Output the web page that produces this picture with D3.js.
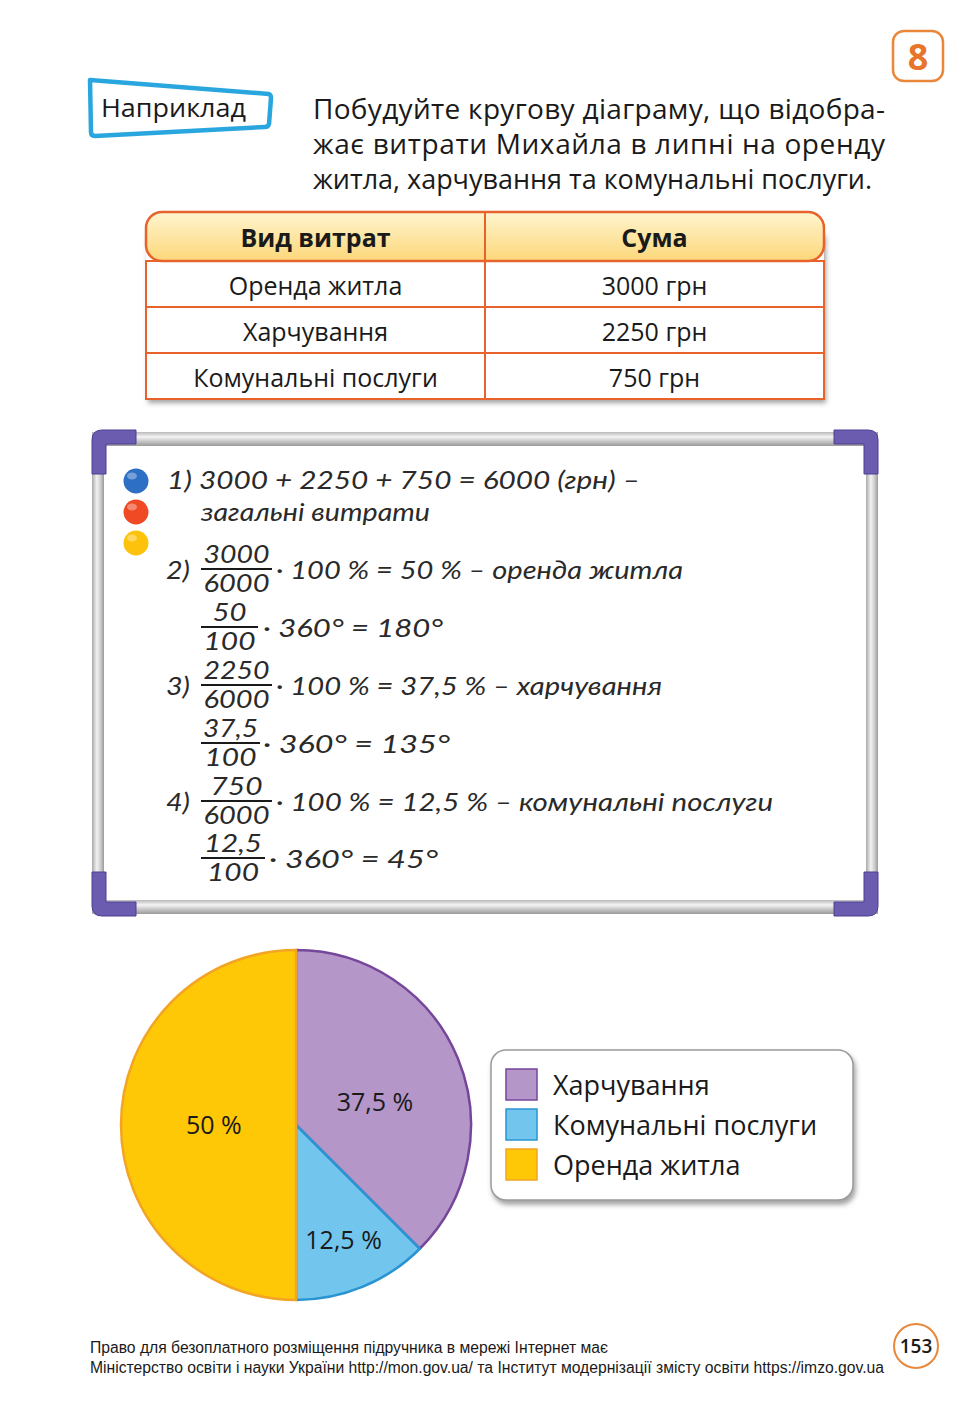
<!DOCTYPE html>
<html><head><meta charset="utf-8">
<script src="https://cdn.jsdelivr.net/npm/d3@7"></script>
<style>body{margin:0;background:#fff}svg{display:block}</style>
</head><body>
<svg id="page" width="974" height="1406"></svg>
<script>
// ---------- data ----------
const tableHeaders = ["Вид витрат", "Сума"];
const expenseCategories = ["Оренда житла", "Харчування", "Комунальні послуги"];
const expenseAmounts = [3000, 2250, 750];
const amountUnit = "грн";
const pieCategories = ["Харчування", "Комунальні послуги", "Оренда житла"];
const piePercents = [37.5, 12.5, 50];
const pieLabels = ["37,5 %", "12,5 %", "50 %"];
const legendOrder = ["Харчування", "Комунальні послуги", "Оренда житла"];

const pieFill = {"Харчування":"#b596c9","Комунальні послуги":"#72c6ee","Оренда житла":"#ffc806"};
const pieEdge = {"Харчування":"#76469a","Комунальні послуги":"#2a94d2","Оренда житла":"#f2a524"};

const svg = d3.select("#page");
const defs = svg.append("defs");
const MAIN = "'Open Sans','Noto Sans',sans-serif";
const HAND = "Lato,'DejaVu Sans',sans-serif";

// filters / gradients
const sh = defs.append("filter").attr("id","shadow").attr("x","-10%").attr("y","-10%").attr("width","130%").attr("height","140%");
sh.append("feDropShadow").attr("dx",2).attr("dy",4).attr("stdDeviation",2.5).attr("flood-color","#555").attr("flood-opacity",0.55);
const hg = defs.append("linearGradient").attr("id","hdrGrad").attr("x1",0).attr("y1",0).attr("x2",0).attr("y2",1);
hg.append("stop").attr("offset","0%").attr("stop-color","#fff5cf");
hg.append("stop").attr("offset","100%").attr("stop-color","#fcd77a");
const mg = defs.append("linearGradient").attr("id","metalH").attr("x1",0).attr("y1",0).attr("x2",0).attr("y2",1);
[["0%","#b9b9b9"],["35%","#f4f4f4"],["60%","#d0d0d0"],["100%","#9a9a9a"]].forEach(s=>mg.append("stop").attr("offset",s[0]).attr("stop-color",s[1]));
const mv = defs.append("linearGradient").attr("id","metalV").attr("x1",0).attr("y1",0).attr("x2",1).attr("y2",0);
[["0%","#a9a9a9"],["40%","#f2f2f2"],["70%","#cfcfcf"],["100%","#9a9a9a"]].forEach(s=>mv.append("stop").attr("offset",s[0]).attr("stop-color",s[1]));

// ---------- header ----------
svg.append("rect").attr("x",893).attr("y",31).attr("width",50).attr("height",50).attr("rx",11)
  .attr("fill","#fff").attr("stroke","#e9873a").attr("stroke-width",2.5);
svg.append("text").attr("x",918).attr("y",70).attr("text-anchor","middle")
  .attr("font-family",MAIN).attr("font-weight",700).attr("font-size",36).attr("fill","#e8762a").text("8");

svg.append("path").attr("d","M90,80 L269,94 Q271,95 271,98 L269,124 Q268,127 265,127 L95,136 Q91,136 91,132 Z")
  .attr("fill","#fff").attr("stroke","#2aa6df").attr("stroke-width",4.5).attr("stroke-linejoin","round");
svg.append("text").attr("x",101).attr("y",117).attr("font-family",MAIN).attr("font-size",26).attr("fill","#1a1a1a")
  .attr("textLength",145).attr("lengthAdjust","spacingAndGlyphs").text("Наприклад");

const introLines = [
  "Побудуйте кругову діаграму, що відобра-",
  "жає витрати Михайла в липні на оренду",
  "житла, харчування та комунальні послуги."
];
const introW = [572, 572, 559];
introLines.forEach((t,i)=>{
  svg.append("text").attr("x",313).attr("y",119+i*35).attr("font-family",MAIN).attr("font-size",28)
    .attr("fill","#1a1a1a").attr("textLength",introW[i]).attr("lengthAdjust", i<2?"spacing":"spacingAndGlyphs").text(t);
});

// ---------- table ----------
const tX = 146, tW = 678, colX = 485, hdrTop = 212, hdrBot = 261, rowH = 46;
const tg = svg.append("g");
tg.append("rect").attr("x",tX).attr("y",hdrTop+20).attr("width",tW).attr("height",hdrBot-hdrTop-20+rowH*3)
  .attr("fill","#fff").attr("filter","url(#shadow)");
tg.append("rect").attr("x",tX).attr("y",hdrBot).attr("width",tW).attr("height",rowH*3)
  .attr("fill","#fff").attr("stroke","#e8622c").attr("stroke-width",2);
tg.append("rect").attr("x",tX).attr("y",hdrTop).attr("width",tW).attr("height",hdrBot-hdrTop).attr("rx",16)
  .attr("fill","url(#hdrGrad)").attr("stroke","#e8622c").attr("stroke-width",2.5);
expenseCategories.forEach((c,i)=>{
  if(i>0) tg.append("line").attr("x1",tX).attr("x2",tX+tW).attr("y1",hdrBot+i*rowH).attr("y2",hdrBot+i*rowH)
    .attr("stroke","#e8622c").attr("stroke-width",2);
});
tg.append("line").attr("x1",colX).attr("x2",colX).attr("y1",hdrTop).attr("y2",hdrBot+rowH*3).attr("stroke","#e8622c").attr("stroke-width",2);
const col1 = (tX+colX)/2, col2 = (colX+tX+tW)/2;
tg.append("text").attr("x",col1).attr("y",hdrTop+35).attr("text-anchor","middle").attr("font-family",MAIN)
  .attr("font-weight",700).attr("font-size",25).attr("fill","#1a1a1a").text(tableHeaders[0]);
tg.append("text").attr("x",col2).attr("y",hdrTop+35).attr("text-anchor","middle").attr("font-family",MAIN)
  .attr("font-weight",700).attr("font-size",25).attr("fill","#1a1a1a").text(tableHeaders[1]);
expenseCategories.forEach((c,i)=>{
  const y = hdrBot + i*rowH + 34;
  tg.append("text").attr("x",col1).attr("y",y).attr("text-anchor","middle").attr("font-family",MAIN)
    .attr("font-size",25).attr("fill","#1a1a1a").text(c);
  tg.append("text").attr("x",col2).attr("y",y).attr("text-anchor","middle").attr("font-family",MAIN)
    .attr("font-size",25).attr("fill","#1a1a1a").text(expenseAmounts[i] + " " + amountUnit);
});

// ---------- whiteboard ----------
const wb = svg.append("g");
const bx0 = 92, by0 = 432, bx1 = 878, by1 = 914;
wb.append("rect").attr("x",bx0).attr("y",by0).attr("width",bx1-bx0).attr("height",by1-by0).attr("rx",6).attr("fill","#bdbdbd");
wb.append("rect").attr("x",bx0).attr("y",by0).attr("width",bx1-bx0).attr("height",14).attr("fill","url(#metalH)");
wb.append("rect").attr("x",bx0).attr("y",by1-14).attr("width",bx1-bx0).attr("height",14).attr("fill","url(#metalH)");
wb.append("rect").attr("x",bx0).attr("y",by0).attr("width",12).attr("height",by1-by0).attr("fill","url(#metalV)");
wb.append("rect").attr("x",bx1-12).attr("y",by0).attr("width",12).attr("height",by1-by0).attr("fill","url(#metalV)");
wb.append("rect").attr("x",bx0+12).attr("y",by0+14).attr("width",bx1-bx0-24).attr("height",by1-by0-28).attr("fill","#fff");
// purple corners
const cornerPath = (x,y,sx,sy)=>{
  const L=44, T=14, R=10;
  return `M${x},${y+sy*L} L${x},${y+sy*R} Q${x},${y} ${x+sx*R},${y} L${x+sx*L},${y} L${x+sx*L},${y+sy*T} L${x+sx*T},${y+sy*T} L${x+sx*T},${y+sy*L} Z`;
};
[[bx0,by0-2,1,1],[bx1,by0-2,-1,1],[bx0,by1+2,1,-1],[bx1,by1+2,-1,-1]].forEach(c=>{
  wb.append("path").attr("d",cornerPath(...c)).attr("fill","#6c5cb0").attr("stroke","#4f3f93").attr("stroke-width",1);
});
// marker dots
[["#2d6fc4",481],["#ef4a24",512],["#fcc20c",543]].forEach(d=>{
  wb.append("circle").attr("cx",136).attr("cy",d[1]).attr("r",12.5).attr("fill",d[0]);
  wb.append("ellipse").attr("cx",132).attr("cy",d[1]-5).attr("rx",5).attr("ry",3.5).attr("fill","#fff").attr("opacity",0.35);
});

const hand = (x,y,t,w,anchor)=>{
  const el = wb.append("text").attr("x",x).attr("y",y).attr("font-family",HAND).attr("font-style","italic")
    .attr("font-weight",400).attr("font-size",25).attr("fill","#2a2a2a").text(t);
  if(anchor) el.attr("text-anchor",anchor);
  if(w) el.attr("textLength",w).attr("lengthAdjust","spacingAndGlyphs");
  return el;
};
const frac = (x1,x2,bar,num,den,nw,dw)=>{
  wb.append("line").attr("x1",x1).attr("x2",x2).attr("y1",bar).attr("y2",bar).attr("stroke","#1a1a1a").attr("stroke-width",2);
  const cx=(x1+x2)/2;
  hand(cx,bar-6,num,nw,"middle");
  hand(cx,bar+23,den,dw,"middle");
};

hand(167,489,"1) 3000 + 2250 + 750 = 6000 (грн) –",473);
hand(201,521,"загальні витрати",229);

hand(166,579,"2)",24);
frac(201,272,569,"3000","6000",66,66);
hand(276,579,"· 100 % = 50 % – оренда житла",407);
frac(201,258,627,"50","100",34,52);
hand(263,637,"· 360° = 180°",180);

hand(166,695,"3)",24);
frac(201,272,685,"2250","6000",66,66);
hand(276,695,"· 100 % = 37,5 % – харчування",386);
frac(201,260,743,"37,5","100",55,52);
hand(263,753,"· 360° = 135°",187);

hand(166,811,"4)",24);
frac(201,272,801,"750","6000",52,66);
hand(276,811,"· 100 % = 12,5 % – комунальні послуги",497);
frac(201,265,858,"12,5","100",58,52);
hand(269,868,"· 360° = 45°",169);

// ---------- pie chart ----------
const cx = 296, cy = 1125, R = 175;
const pieData = pieCategories.map((c,i)=>({cat:c, v:piePercents[i], label:pieLabels[i]}));
const pie = d3.pie().sort(null).value(d=>d.v).startAngle(0);
const arc = d3.arc().innerRadius(0).outerRadius(R);
const pg = svg.append("g").attr("transform",`translate(${cx},${cy})`);
const arcs = pie(pieData);
pg.selectAll("path.slice").data(arcs).join("path").attr("class","slice")
  .attr("d",arc).attr("fill",d=>pieFill[d.data.cat]).attr("stroke",d=>pieEdge[d.data.cat])
  .attr("stroke-width",2.5).attr("stroke-linejoin","round");
pg.selectAll("text.lbl").data(arcs).join("text").attr("class","lbl")
  .attr("transform",d=>{
    const a=(d.startAngle+d.endAngle)/2;
    const small = d.data.v<20;
    const rr = small ? R*0.71 : R*0.47;
    const a2 = (!small && a < Math.PI) ? a + 0.11 : a;
    return `translate(${Math.sin(a2)*rr},${-Math.cos(a2)*rr+9})`;
  })
  .attr("text-anchor","middle").attr("font-family",MAIN).attr("font-size",25).attr("fill","#1a1a1a")
  .text(d=>d.data.label);

// ---------- legend ----------
const lg = svg.append("g");
lg.append("rect").attr("x",491).attr("y",1050).attr("width",362).attr("height",150).attr("rx",15)
  .attr("fill","#fff").attr("stroke","#9a9a9a").attr("stroke-width",1.5).attr("filter","url(#shadow)");
legendOrder.forEach((c,i)=>{
  const y = 1069 + i*40;
  lg.append("rect").attr("x",506).attr("y",y).attr("width",31).attr("height",31)
    .attr("fill",pieFill[c]).attr("stroke",pieEdge[c]).attr("stroke-width",1.5);
  lg.append("text").attr("x",553).attr("y",y+26).attr("font-family",MAIN).attr("font-size",27)
    .attr("fill","#1a1a1a").text(c);
});

// ---------- footer ----------
const FOOT = "'Liberation Sans Narrow','Liberation Sans',Arial,sans-serif";
svg.append("text").attr("x",90).attr("y",1353).attr("font-family",FOOT).attr("font-size",16).attr("fill","#1a1a1a")
  .attr("textLength",518).attr("lengthAdjust","spacingAndGlyphs")
  .text("Право для безоплатного розміщення підручника в мережі Інтернет має");
svg.append("text").attr("x",90).attr("y",1373).attr("font-family",FOOT).attr("font-size",16).attr("fill","#1a1a1a")
  .attr("textLength",794).attr("lengthAdjust","spacingAndGlyphs")
  .text("Міністерство освіти і науки України http://mon.gov.ua/ та Інститут модернізації змісту освіти https://imzo.gov.ua");
svg.append("circle").attr("cx",916).attr("cy",1346).attr("r",22).attr("fill","#fff").attr("stroke","#e9873a").attr("stroke-width",2);
svg.append("text").attr("x",916).attr("y",1353).attr("text-anchor","middle").attr("font-family",MAIN)
  .attr("font-weight",600).attr("font-size",19).attr("fill","#1a1a1a").text("153");
</script>
</body></html>
